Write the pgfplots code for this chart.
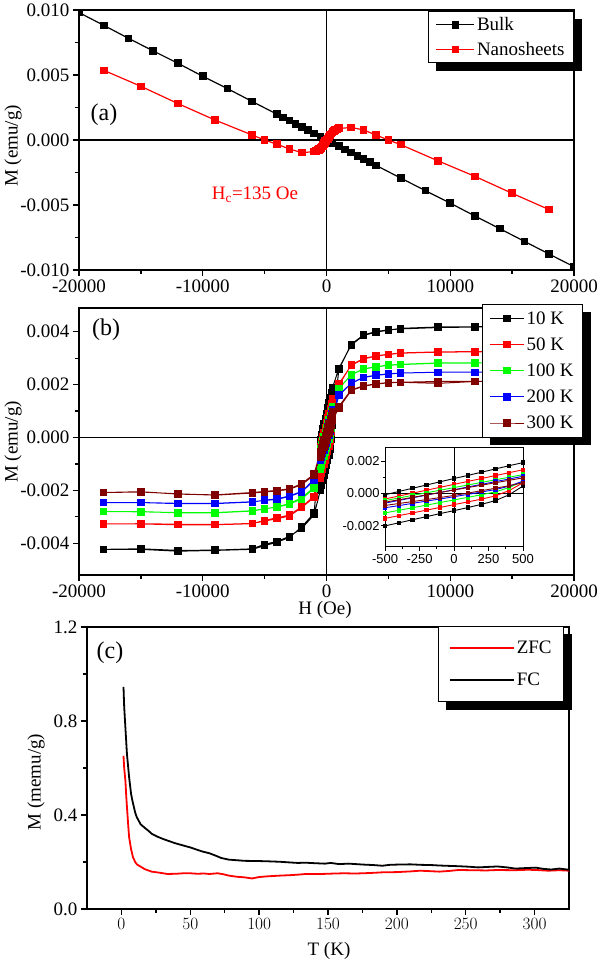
\documentclass[border=0pt]{standalone}
\usepackage{fontspec}
\setmainfont{Liberation Serif}
\newfontfamily\insetfont{Liberation Sans}
\usepackage{pgfplots}
\pgfplotsset{compat=1.18}
\usepackage{pgfplotstable}
\definecolor{dred}{RGB}{128,0,0}
\definecolor{pgreen}{RGB}{0,255,0}

\pgfplotsset{
  origin/.style={
    scale only axis,
    axis line style={line width=1.8pt},
    tick style={line width=1.3pt, black},
    tick align=outside,
    tick pos=left,
    major tick length=6pt,
    minor tick length=4pt,
    scaled ticks=false,
    ticklabel style={font=\fontsize{19}{21}\selectfont},
    legend cell align=left,
    legend style={font=\fontsize{19}{21}\selectfont, draw=black, line width=0.8pt, fill=white},
  },
}

% panel (a)
\pgfplotstableread{
H M
-20000 0.00980
-18000 0.00882
-16000 0.00782
-14000 0.00685
-12000 0.00590
-10000 0.00490
-8000 0.00395
-6000 0.00296
-4000 0.00198
-3500 0.00173
-3000 0.00149
-2500 0.00124
-2000 0.00099
-1500 0.00075
-1000 0.00050
-500 0.00026
0 0.00002
500 -0.00023
1000 -0.00048
1500 -0.00073
2000 -0.00097
2500 -0.00122
3000 -0.00146
3500 -0.00171
4000 -0.00195
6000 -0.00293
8000 -0.00390
10000 -0.00486
12000 -0.00585
14000 -0.00682
16000 -0.00780
18000 -0.00878
20000 -0.00975
}\bulk

\pgfplotstableread{
H M
-18000 0.00536
-15000 0.00413
-12000 0.00280
-9000 0.00153
-6000 0.00038
-5000 0.00000
-4000 -0.00033
-3000 -0.00069
-2000 -0.00097
-1000 -0.00090
-900 -0.00088
-800 -0.00085
-700 -0.00081
-600 -0.00076
-500 -0.00069
-400 -0.00060
-300 -0.00049
-200 -0.00036
-100 -0.00021
0 -0.00006
100 0.00009
200 0.00024
300 0.00037
400 0.00049
500 0.00059
600 0.00067
700 0.00074
800 0.00080
900 0.00084
1000 0.00088
2000 0.00097
3000 0.00077
4000 0.00038
5000 0.00000
6000 -0.00036
9000 -0.00160
12000 -0.00280
15000 -0.00410
18000 -0.00536
}\nanoA

\pgfplotstableread{
H M
1000 0.00090
900 0.00087
800 0.00082
700 0.00076
600 0.00069
500 0.00061
400 0.00051
300 0.00039
200 0.00026
100 0.00011
0 0.00004
-100 -0.00009
-200 -0.00024
-300 -0.00037
-400 -0.00049
-500 -0.00059
-600 -0.00067
-700 -0.00074
-800 -0.00080
-900 -0.00085
-1000 -0.00088
}\nanoB

% panel (b)
\pgfplotstableread{
H M
18000 0.00420
15000 0.00420
12000 0.00419
9000 0.00418
6000 0.00413
5000 0.00406
4000 0.00399
3000 0.00386
2000 0.00350
1000 0.00262
500 0.00190
400 0.00171
300 0.00151
200 0.00131
100 0.00111
0 0.00092
-100 0.00072
-200 0.00052
-300 0.00032
-400 0.00012
-500 -0.00008
-1000 -0.00286
-2000 -0.00338
-3000 -0.00378
-4000 -0.00396
-5000 -0.00409
-6000 -0.00423
-9000 -0.00427
-12000 -0.00430
-15000 -0.00423
-18000 -0.00423
-15000 -0.00421
-12000 -0.00427
-9000 -0.00426
-6000 -0.00421
-5000 -0.00404
-4000 -0.00393
-3000 -0.00374
-2000 -0.00344
-1000 -0.00292
-500 -0.00200
-400 -0.00181
-300 -0.00162
-200 -0.00143
-100 -0.00124
0 -0.00106
100 -0.00087
200 -0.00067
300 -0.00044
400 -0.00008
500 0.00046
1000 0.00258
2000 0.00353
3000 0.00388
4000 0.00401
5000 0.00407
6000 0.00411
9000 0.00416
12000 0.00418
15000 0.00420
18000 0.00420
}\tenK

\pgfplotstableread{
H M
18000 0.00325
15000 0.00325
12000 0.00324
9000 0.00323
6000 0.00319
5000 0.00314
4000 0.00308
3000 0.00297
2000 0.00273
1000 0.00203
500 0.00146
400 0.00128
300 0.00110
200 0.00092
100 0.00074
0 0.00056
-100 0.00038
-200 0.00020
-300 0.00002
-400 -0.00016
-500 -0.00034
-1000 -0.00222
-2000 -0.00262
-3000 -0.00293
-4000 -0.00304
-5000 -0.00313
-6000 -0.00326
-9000 -0.00330
-12000 -0.00330
-15000 -0.00327
-18000 -0.00327
-15000 -0.00326
-12000 -0.00328
-9000 -0.00329
-6000 -0.00325
-5000 -0.00316
-4000 -0.00307
-3000 -0.00297
-2000 -0.00265
-1000 -0.00226
-500 -0.00154
-400 -0.00137
-300 -0.00120
-200 -0.00103
-100 -0.00086
0 -0.00069
100 -0.00052
200 -0.00035
300 -0.00015
400 0.00018
500 0.00066
1000 0.00198
2000 0.00275
3000 0.00299
4000 0.00309
5000 0.00315
6000 0.00320
9000 0.00324
12000 0.00325
15000 0.00325
18000 0.00325
}\fiftyK

\pgfplotstableread{
H M
18000 0.00282
15000 0.00282
12000 0.00282
9000 0.00281
6000 0.00276
5000 0.00273
4000 0.00267
3000 0.00259
2000 0.00237
1000 0.00186
500 0.00116
400 0.00100
300 0.00084
200 0.00068
100 0.00052
0 0.00036
-100 0.00020
-200 0.00004
-300 -0.00012
-400 -0.00028
-500 -0.00044
-1000 -0.00188
-2000 -0.00228
-3000 -0.00250
-4000 -0.00262
-5000 -0.00270
-6000 -0.00278
-9000 -0.00285
-12000 -0.00285
-15000 -0.00280
-18000 -0.00280
-15000 -0.00281
-12000 -0.00284
-9000 -0.00284
-6000 -0.00277
-5000 -0.00269
-4000 -0.00264
-3000 -0.00252
-2000 -0.00232
-1000 -0.00192
-500 -0.00120
-400 -0.00104
-300 -0.00088
-200 -0.00072
-100 -0.00056
0 -0.00040
100 -0.00024
200 -0.00008
300 0.00010
400 0.00036
500 0.00076
1000 0.00184
2000 0.00238
3000 0.00260
4000 0.00268
5000 0.00274
6000 0.00277
9000 0.00282
12000 0.00282
15000 0.00282
18000 0.00282
}\hundredK

\pgfplotstableread{
H M
18000 0.00247
15000 0.00247
12000 0.00247
9000 0.00247
6000 0.00244
5000 0.00240
4000 0.00235
3000 0.00227
2000 0.00205
1000 0.00162
500 0.00106
400 0.00089
300 0.00073
200 0.00056
100 0.00040
0 0.00023
-100 0.00006
-200 -0.00010
-300 -0.00027
-400 -0.00043
-500 -0.00060
-1000 -0.00158
-2000 -0.00204
-3000 -0.00221
-4000 -0.00232
-5000 -0.00237
-6000 -0.00244
-9000 -0.00250
-12000 -0.00250
-15000 -0.00246
-18000 -0.00246
-15000 -0.00246
-12000 -0.00249
-9000 -0.00249
-6000 -0.00243
-5000 -0.00238
-4000 -0.00234
-3000 -0.00223
-2000 -0.00206
-1000 -0.00162
-500 -0.00088
-400 -0.00075
-300 -0.00061
-200 -0.00047
-100 -0.00034
0 -0.00020
100 -0.00006
200 0.00009
300 0.00024
400 0.00045
500 0.00076
1000 0.00158
2000 0.00206
3000 0.00228
4000 0.00236
5000 0.00241
6000 0.00244
9000 0.00247
12000 0.00247
15000 0.00247
18000 0.00247
}\twohundredK

\pgfplotstableread{
H M
18000 0.00212
15000 0.00212
12000 0.00212
9000 0.00212
6000 0.00209
5000 0.00208
4000 0.00203
3000 0.00196
2000 0.00180
1000 0.00118
500 0.00096
400 0.00081
300 0.00066
200 0.00051
100 0.00036
0 0.00021
-100 0.00006
-200 -0.00009
-300 -0.00024
-400 -0.00039
-500 -0.00054
-1000 -0.00138
-2000 -0.00175
-3000 -0.00194
-4000 -0.00200
-5000 -0.00204
-6000 -0.00208
-9000 -0.00217
-12000 -0.00214
-15000 -0.00205
-18000 -0.00208
-15000 -0.00206
-12000 -0.00213
-9000 -0.00218
-6000 -0.00210
-5000 -0.00206
-4000 -0.00202
-3000 -0.00196
-2000 -0.00178
-1000 -0.00142
-500 -0.00074
-400 -0.00062
-300 -0.00050
-200 -0.00038
-100 -0.00025
0 -0.00012
100 0.00002
200 0.00017
300 0.00032
400 0.00048
500 0.00066
1000 0.00112
2000 0.00178
3000 0.00194
4000 0.00202
5000 0.00207
6000 0.00209
9000 0.00205
12000 0.00212
15000 0.00212
18000 0.00212
}\threehundredK

% panel (c)
\pgfplotstableread{
T M
1.5 0.652
2 0.600
2.9 0.545
3.5 0.480
4.2 0.418
5 0.350
5.6 0.305
7 0.255
8.4 0.220
10 0.200
11.2 0.190
14 0.180
16.8 0.170
20 0.163
22 0.159
27 0.155
33.5 0.149
40 0.150
45 0.152
50 0.152
55 0.150
60 0.151
64 0.149
69.7 0.152
74 0.148
78 0.142
84 0.137
89 0.135
94.8 0.130
100 0.136
106 0.139
115 0.142
122.6 0.144
130 0.147
133.8 0.149
145 0.149
155 0.151
161.6 0.152
170 0.151
180 0.153
189.5 0.156
200 0.157
210 0.160
217 0.163
224 0.161
231 0.159
238 0.162
245 0.166
255 0.165
265 0.164
273 0.166
285 0.165
295 0.167
301 0.166
310 0.163
318 0.165
325 0.163
}\zfc

\pgfplotstableread{
T M
1.5 0.945
2 0.860
2.9 0.770
4 0.660
5.6 0.560
7 0.490
8 0.460
10 0.410
11.2 0.390
14 0.360
17 0.345
19.6 0.333
22 0.320
26 0.308
30.7 0.297
35 0.288
39 0.280
45 0.270
50 0.262
55 0.252
58.6 0.245
64 0.237
68 0.228
72.5 0.217
78 0.210
85 0.207
89 0.205
100 0.204
106 0.203
115 0.201
122.6 0.198
128 0.196
133.8 0.197
140 0.195
147.7 0.193
152 0.196
158 0.191
165 0.193
175.6 0.189
183 0.187
189.5 0.184
195 0.188
200.6 0.189
210 0.190
217 0.188
225 0.187
231 0.185
240 0.183
245 0.182
252 0.180
259 0.177
266 0.179
273 0.181
280 0.177
286 0.172
293 0.174
301 0.176
306 0.171
312 0.168
318 0.172
325 0.167
}\fc

\begin{document}
\begin{tikzpicture}
\path[use as bounding box] (0pt,0pt) rectangle (600pt,964pt);

% ---------- (a)
\begin{axis}[origin,
  at={(79pt,694pt)}, anchor=south west, width=495pt, height=260pt,
  xmin=-20000, xmax=20000, ymin=-0.01, ymax=0.01,
  xtick={-20000,-10000,0,10000,20000},
  xticklabels={-20000,-10000,0,10000,20000},
  ytick={-0.01,-0.005,0,0.005,0.01},
  yticklabels={-0.010,-0.005,0.000,0.005,0.010},
  minor x tick num=1, minor y tick num=1,
  clip marker paths=true,
  legend style={name=legA, at={(1,1)}, anchor=north east, yshift=-1pt, row sep=6pt, inner ysep=4pt, inner xsep=7pt},
  legend image code/.code={\draw[mark repeat=2,mark phase=2,#1] plot coordinates {(0pt,0pt) (19pt,0pt) (38pt,0pt)};},
]
\draw[line width=1.5pt] (axis cs:0,-0.01) -- (axis cs:0,0.01);
\draw[line width=1.5pt] (axis cs:-20000,0) -- (axis cs:20000,0);
\addplot[black, line width=1.2pt, mark=square*, mark size=3.2pt] table[x=H,y=M] {\bulk};
\addlegendentry{Bulk}
\addplot[red, line width=1.2pt, mark=square*, mark size=3.2pt] table[x=H,y=M] {\nanoA};
\addlegendentry{Nanosheets}
\addplot[red, line width=1.2pt, mark=square*, mark size=3.2pt, forget plot] table[x=H,y=M] {\nanoB};
\end{axis}
\fill[black] ([yshift=-8pt]legA.north east) rectangle ([xshift=8pt,yshift=-8pt]legA.south east);
\fill[black] ([xshift=8pt]legA.south west) rectangle ([xshift=8pt,yshift=-8pt]legA.south east);

% ---------- (b)
\begin{axis}[origin,
  at={(79pt,389pt)}, anchor=south west, width=495pt, height=267pt,
  xmin=-20000, xmax=20000, ymin=-0.0052, ymax=0.0049,
  xtick={-20000,-10000,0,10000,20000},
  xticklabels={-20000,-10000,0,10000,20000},
  ytick={-0.004,-0.002,0,0.002,0.004},
  yticklabels={-0.004,-0.002,0.000,0.002,0.004},
  minor x tick num=1, minor y tick num=1,
  legend style={name=legB, at={(1,1)}, anchor=north east, xshift=9pt, yshift=4pt, row sep=8pt, inner ysep=5pt, inner xsep=7pt},
  legend image code/.code={\draw[mark repeat=2,mark phase=2,#1] plot coordinates {(0pt,0pt) (17pt,0pt) (34pt,0pt)};},
]
\draw[line width=1.5pt] (axis cs:0,-0.0052) -- (axis cs:0,0.0049);
\draw[line width=1.5pt] (axis cs:-20000,0) -- (axis cs:20000,0);
\addplot[black, line width=1pt, mark=square*, mark size=3.2pt] table[x=H,y=M] {\tenK};
\addlegendentry{10 K}
\addplot[red, line width=1pt, mark=square*, mark size=3.2pt] table[x=H,y=M] {\fiftyK};
\addlegendentry{50 K}
\addplot[pgreen, line width=1pt, mark=square*, mark size=3.2pt] table[x=H,y=M] {\hundredK};
\addlegendentry{100 K}
\addplot[blue, line width=1pt, mark=square*, mark size=3.2pt] table[x=H,y=M] {\twohundredK};
\addlegendentry{200 K}
\addplot[dred, line width=1pt, mark=square*, mark size=3.2pt] table[x=H,y=M] {\threehundredK};
\addlegendentry{300 K}
\end{axis}
\fill[black] ([yshift=-8pt]legB.north east) rectangle ([xshift=8pt,yshift=-8pt]legB.south east);
\fill[black] ([xshift=8pt]legB.south west) rectangle ([xshift=8pt,yshift=-8pt]legB.south east);

% ---------- inset of (b)
\begin{axis}[
  scale only axis,
  at={(385pt,417pt)}, anchor=south west, width=138pt, height=99pt,
  axis background/.style={fill=white},
  axis line style={line width=1pt},
  tick style={line width=0.8pt, black},
  tick align=outside, tick pos=left,
  major tick length=4pt, minor tick length=2.5pt,
  scaled ticks=false,
  ticklabel style={font=\insetfont\fontsize{13}{15}\selectfont},
  xmin=-500, xmax=500, ymin=-0.0033, ymax=0.0028,
  xtick={-500,-250,0,250,500},
  xticklabels={-500,-250,0,250,500},
  ytick={-0.002,0,0.002},
  yticklabels={-0.002,0.000,0.002},
  yticklabel style={xshift=2pt},
  minor x tick num=1, minor y tick num=1,
]
\draw[line width=0.6pt] (axis cs:0,-0.0033) -- (axis cs:0,0.0028);
\draw[line width=0.6pt] (axis cs:-500,0) -- (axis cs:500,0);
\addplot[black, line width=0.9pt, mark=square*, mark size=1.7pt] table[x=H,y=M] {\tenK};
\addplot[red, line width=0.9pt, mark=square*, mark size=1.7pt] table[x=H,y=M] {\fiftyK};
\addplot[pgreen, line width=0.9pt, mark=square*, mark size=1.7pt] table[x=H,y=M] {\hundredK};
\addplot[blue, line width=0.9pt, mark=square*, mark size=1.7pt] table[x=H,y=M] {\twohundredK};
\addplot[dred, line width=0.9pt, mark=square*, mark size=1.7pt] table[x=H,y=M] {\threehundredK};
\end{axis}

% ---------- (c)
\begin{axis}[origin,
  at={(87pt,55pt)}, anchor=south west, width=482pt, height=282pt,
  xmin=-25, xmax=325, ymin=0, ymax=1.2,
  xtick={0,50,100,150,200,250,300},
  ytick={0,0.4,0.8,1.2},
  yticklabels={0.0,0.4,0.8,1.2},
  minor x tick num=1, minor y tick num=1,
  legend style={name=legC, at={(1,1)}, anchor=north east, xshift=-5pt, yshift=1pt, row sep=13pt, inner ysep=13pt, inner xsep=10pt},
  legend image code/.code={\draw[#1] (0pt,0pt) -- (64pt,0pt);},
  legend image post style={line width=2pt},
]
\addplot[red, line width=1.8pt] table[x=T,y=M] {\zfc};
\addlegendentry{ZFC}
\addplot[black, line width=1.8pt] table[x=T,y=M] {\fc};
\addlegendentry{FC}
\end{axis}
\fill[black] ([yshift=-8pt]legC.north east) rectangle ([xshift=8pt,yshift=-8pt]legC.south east);
\fill[black] ([xshift=8pt]legC.south west) rectangle ([xshift=8pt,yshift=-8pt]legC.south east);

% ---------- texts
\node[font=\fontsize{24}{26}\selectfont] at (104pt,849pt) {(a)};
\node[font=\fontsize{24}{26}\selectfont] at (106pt,634pt) {(b)};
\node[font=\fontsize{24}{26}\selectfont] at (110pt,311pt) {(c)};
\node[red, font=\fontsize{19}{21}\selectfont] at (255pt,769pt) {H\textsubscript{c}=135 Oe};
\node[rotate=90, font=\fontsize{19}{21}\selectfont] at (13pt,818pt) {M (emu/g)};
\node[rotate=90, font=\fontsize{19}{21}\selectfont] at (13pt,522pt) {M (emu/g)};
\node[rotate=90, font=\fontsize{19}{21}\selectfont] at (36pt,182pt) {M (memu/g)};
\node[font=\fontsize{19}{21}\selectfont] at (329pt,13pt) {T (K)};
\begin{scope}
\clip (200pt,346pt) rectangle (450pt,368pt);
\node[font=\fontsize{19}{21}\selectfont, inner sep=1pt] at (325pt,354pt) {H (Oe)};
\end{scope}
\end{tikzpicture}
\end{document}
